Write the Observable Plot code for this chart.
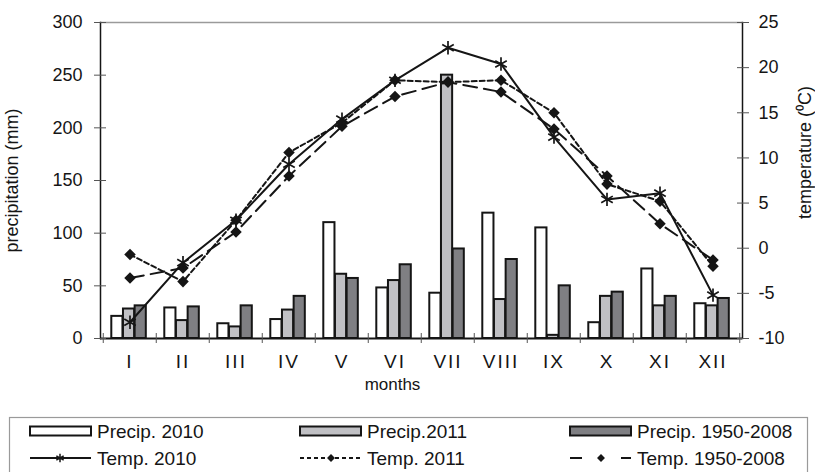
<!DOCTYPE html>
<html><head><meta charset="utf-8">
<script src="https://cdn.jsdelivr.net/npm/d3@7"></script>
<script src="https://cdn.jsdelivr.net/npm/@observablehq/plot@0.6"></script>
<style>
body{margin:0;background:#fff;font-family:"Liberation Sans",Arial,sans-serif;}
#chart{position:relative;width:815px;height:472px;overflow:hidden;background:#fff}
#legend{position:absolute;left:0;top:412px}
</style></head><body><div id="chart"></div>
<script>
const months = ["I","II","III","IV","V","VI","VII","VIII","IX","X","XI","XII"];
const precip2010 = [21,29,14,18,110,48,43,119,105,15,66,33];
const precip2011 = [28,17,11,27,61,55,250,37,3,40,31,31];
const precipMean = [31,30,31,40,57,70,85,75,50,44,40,38];
const temp2010 = [-8.2,-1.6,3.1,9.3,14.3,18.6,22.2,20.4,12.3,5.4,6.1,-5.2];
const temp2011 = [-0.7,-3.7,3.1,10.6,13.9,18.6,18.4,18.6,15.0,7.1,5.2,-2.0];
const tempMean = [-3.3,-2.2,1.8,8.0,13.5,16.8,18.4,17.3,13.2,8.0,2.7,-1.3];
const precipTicks = [0,50,100,150,200,250,300];
const tempTicks = [-10,-5,0,5,10,15,20,25];
const seriesNames = ["Precip. 2010","Precip.2011","Precip. 1950-2008","Temp. 2010","Temp. 2011","Temp. 1950-2008"];

const pMax = precipTicks[precipTicks.length-1];
const tMin = tempTicks[0], tMax = tempTicks[tempTicks.length-1];
const toMM = t => (t - tMin) * pMax / (tMax - tMin);
const toT = v => v * (tMax - tMin) / pMax + tMin;

const W = 815, H = 405, mL = 100, mR = 73, mT = 22, mB = 67;
const bw = (W - mL - mR) / months.length;
const gStart = 8.3, barW = 11.67;
const INK = "#151515";
const FILLS = ["#ffffff", "#c0c0c4", "#7f7f83"];

function bars(values, k) {
  return Plot.barY(months.map((m, i) => ({m, v: values[i]})), {
    x: "m", y: "v", fill: FILLS[k], stroke: INK, strokeWidth: 2,
    insetLeft: gStart + k * barW, insetRight: bw - gStart - (k + 1) * barW
  });
}
function temps(values) { return months.map((m, i) => ({m, t: values[i]})); }

const plot = Plot.plot({
  width: W, height: H, marginLeft: mL, marginRight: mR, marginTop: mT, marginBottom: mB,
  style: {fontFamily: '"Liberation Sans", Arial, sans-serif', fontSize: "18px", color: INK, background: "transparent"},
  x: {domain: months, padding: 0, axis: null},
  y: {domain: [0, pMax], axis: null},
  marks: [
    Plot.ruleY([pMax], {stroke: "#9a9a9a", strokeWidth: 1.5}),
    bars(precip2010, 0), bars(precip2011, 1), bars(precipMean, 2),
    Plot.ruleY([0], {stroke: INK, strokeWidth: 2}),
    Plot.frame({anchor: "left", stroke: INK, strokeWidth: 1.5}),
    Plot.frame({anchor: "right", stroke: INK, strokeWidth: 1.5}),
    // month boundary ticks
    Plot.ruleX(months, {dx: -bw / 2, stroke: "#555", insetTop: H - mB - mT - 5, insetBottom: -5}),
    Plot.ruleX(months.slice(-1), {dx: bw / 2, stroke: "#555", insetTop: H - mB - mT - 5, insetBottom: -5}),
    // left axis
    Plot.axisY(precipTicks, {anchor: "left", tickSize: 12, dx: 6, stroke: "#555", tickFormat: () => "", label: null}),
    Plot.axisY(precipTicks, {anchor: "left", tickSize: 0, tickPadding: 18, fontSize: 18, label: null, tickFormat: d => String(d)}),
    // right axis
    Plot.axisY(tempTicks.map(toMM), {anchor: "right", tickSize: 12, dx: -6, stroke: "#555", tickFormat: () => "", label: null}),
    Plot.axisY(tempTicks.map(toMM), {anchor: "right", tickSize: 0, tickPadding: 16, fontSize: 18, label: null, tickFormat: v => String(Math.round(toT(v)))}),
    // x axis labels
    Plot.axisX(months, {anchor: "bottom", tickSize: 0, tickPadding: 16, fontSize: 19, label: null}),
    Plot.text(["months"], {frameAnchor: "bottom", dx: -29, dy: 51, fontSize: 17, text: d => d}),
    Plot.text(["precipitation (mm)"], {frameAnchor: "left", textAnchor: "middle", rotate: -90, dx: -88, fontSize: 18, text: d => d}),
    Plot.text(["temperature (\u2070C)"], {frameAnchor: "right", textAnchor: "middle", rotate: -90, dx: 63, dy: -28, fontSize: 18, text: d => d}),
    // temperature lines
    Plot.line(temps(tempMean), {x: "m", y: d => toMM(d.t), stroke: INK, strokeWidth: 2, strokeDasharray: "14,7"}),
    Plot.line(temps(temp2011), {x: "m", y: d => toMM(d.t), stroke: INK, strokeWidth: 2, strokeDasharray: "5,3"}),
    Plot.line(temps(temp2010), {x: "m", y: d => toMM(d.t), stroke: INK, strokeWidth: 2}),
    Plot.dot(temps(tempMean), {x: "m", y: d => toMM(d.t), symbol: "diamond2", r: 5.2, fill: INK, stroke: "none"}),
    Plot.dot(temps(temp2011), {x: "m", y: d => toMM(d.t), symbol: "diamond2", r: 5.2, fill: INK, stroke: "none"}),
    Plot.dot(temps(temp2010), {x: "m", y: d => toMM(d.t), symbol: "asterisk", r: 6.3, stroke: INK, strokeWidth: 1.7})
  ]
});
document.getElementById("chart").appendChild(plot);
d3.select(plot).selectAll('g[aria-label="x-axis tick label"] text').attr("letter-spacing", "2px");

// legend
const leg = d3.select("#chart").append("svg").attr("id", "legend").attr("width", W).attr("height", 60)
  .style("font-family", '"Liberation Sans", Arial, sans-serif').style("font-size", "19px");
leg.append("rect").attr("x", 9.5).attr("y", 5.5).attr("width", 798).attr("height", 80)
  .attr("fill", "none").attr("stroke", "#9a9a9a").attr("stroke-width", 1.2);
const colX = [30, 300, 570], rowY = [19, 46];
for (let k = 0; k < 3; k++) {
  leg.append("rect").attr("x", colX[k]).attr("y", rowY[0] - 4.5).attr("width", 61).attr("height", 9)
    .attr("fill", FILLS[k]).attr("stroke", INK).attr("stroke-width", 2);
  leg.append("text").attr("x", colX[k] + 67).attr("y", rowY[0]).attr("dy", "0.35em").attr("fill", INK).text(seriesNames[k]);
  leg.append("text").attr("x", colX[k] + 67).attr("y", rowY[1]).attr("dy", "0.35em").attr("fill", INK).text(seriesNames[k + 3]);
}
// Temp 2010
leg.append("line").attr("x1", colX[0]).attr("x2", colX[0] + 61).attr("y1", rowY[1]).attr("y2", rowY[1]).attr("stroke", INK).attr("stroke-width", 2);
leg.append("path").attr("d", d3.symbol(d3.symbolAsterisk, 50)()).attr("transform", `translate(${colX[0] + 30},${rowY[1]})`).attr("stroke", INK).attr("stroke-width", 1.5).attr("fill", "none");
// Temp 2011
leg.append("line").attr("x1", colX[1]).attr("x2", colX[1] + 61).attr("y1", rowY[1]).attr("y2", rowY[1]).attr("stroke", INK).attr("stroke-width", 2).attr("stroke-dasharray", "4,3");
leg.append("path").attr("d", d3.symbol(d3.symbolDiamond2, 40)()).attr("transform", `translate(${colX[1] + 31},${rowY[1]})`).attr("fill", INK);
// Temp mean
leg.append("line").attr("x1", colX[2]).attr("x2", colX[2] + 12).attr("y1", rowY[1]).attr("y2", rowY[1]).attr("stroke", INK).attr("stroke-width", 2);
leg.append("line").attr("x1", colX[2] + 51).attr("x2", colX[2] + 61).attr("y1", rowY[1]).attr("y2", rowY[1]).attr("stroke", INK).attr("stroke-width", 2);
leg.append("path").attr("d", d3.symbol(d3.symbolDiamond2, 40)()).attr("transform", `translate(${colX[2] + 31},${rowY[1]})`).attr("fill", INK);
</script></body></html>
